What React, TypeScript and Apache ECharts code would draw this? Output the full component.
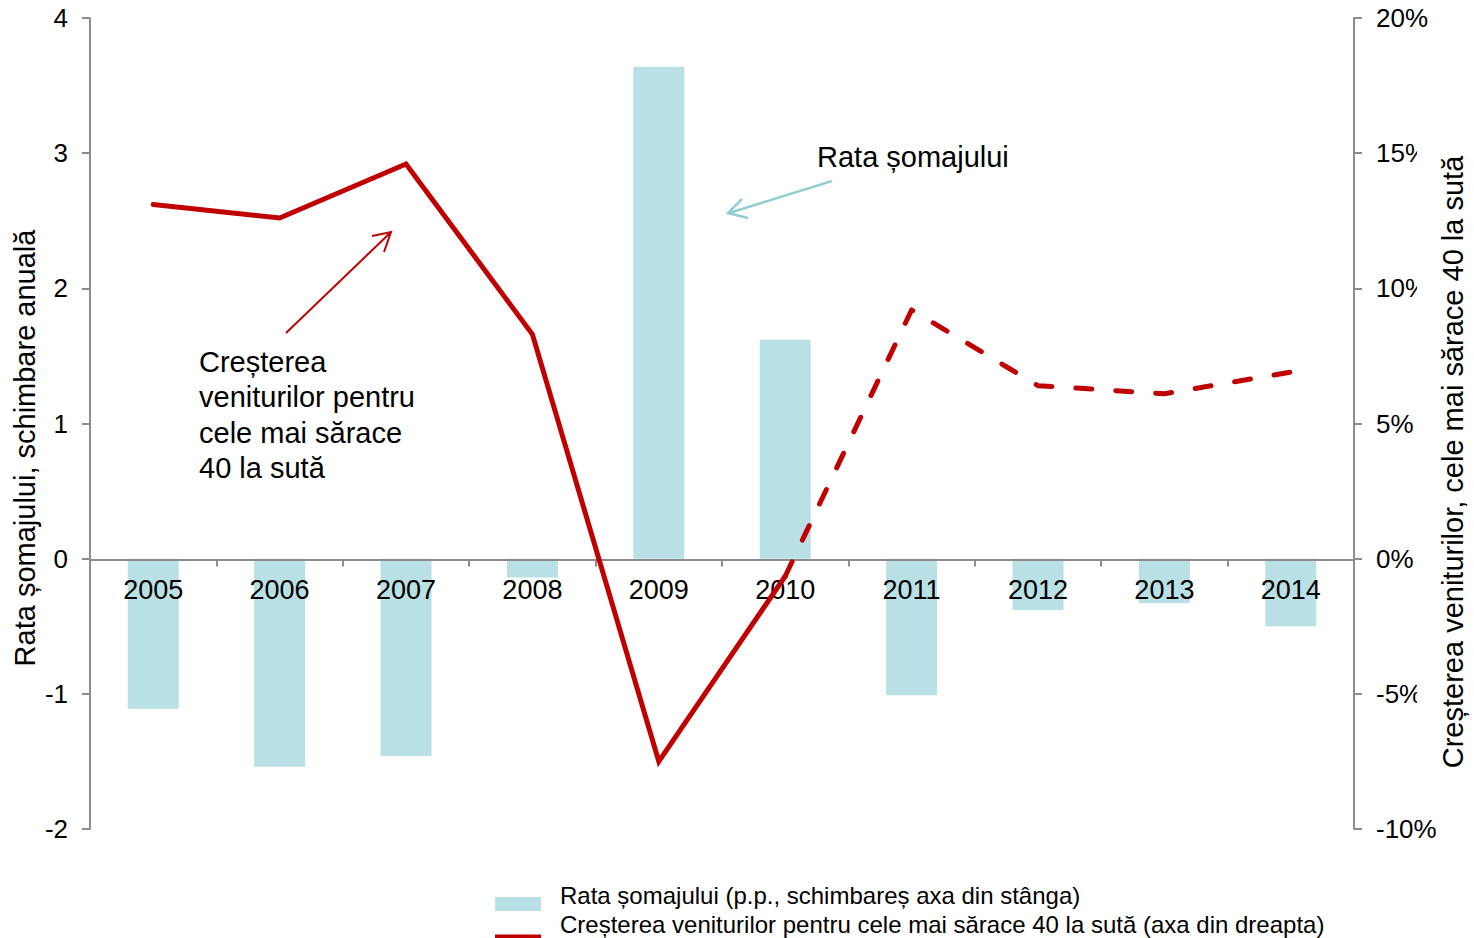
import React, { useEffect, useRef } from "react";
import * as echarts from "echarts";

const years = ["2005", "2006", "2007", "2008", "2009", "2010", "2011", "2012", "2013", "2014"];
const unemploymentChange = [-1.11, -1.54, -1.46, -0.14, 3.64, 1.62, -1.01, -0.38, -0.33, -0.5];
const incomeGrowthActual = [13.1, 12.6, 14.6, 8.3, -7.5, -0.65, null, null, null, null];
const incomeGrowthProjected = [null, null, null, null, null, -0.65, 9.2, 6.4, 6.1, 6.9];
const leftTicks = { min: -2, max: 4, interval: 1 };
const rightTicks = { min: -10, max: 20, interval: 5 };

const barName = "Rata șomajului (p.p., schimbareș axa din stânga)";
const lineName = "Creșterea veniturilor pentru cele mai sărace 40 la sută (axa din dreapta)";
const leftAxisName = "Rata șomajului, schimbare anuală";
const rightAxisName = "Creșterea veniturilor, cele mai sărace 40 la sută";
const annotBar = "Rata șomajului";
const annotLine = ["Creșterea", "veniturilor pentru", "cele mai sărace", "40 la sută"];

const FONT = "'Liberation Sans', Arial, sans-serif";
const RED = "#C00000";
const BAR = "#B9E0E4";
const ARROW_BLUE = "#92CDD2";
const AXIS = "#8C8C8C";

export default function App() {
  const ref = useRef<HTMLDivElement>(null);
  useEffect(() => {
    if (!ref.current) return;
    const chart = echarts.init(ref.current, null, { renderer: "svg" });
    chart.setOption({
      animation: false,
      backgroundColor: "#ffffff",
      textStyle: { fontFamily: FONT },
      grid: { left: 90, right: 120, top: 18, bottom: 109 },
      legend: [
        {
          orient: "vertical",
          left: 495,
          top: 883,
          padding: 0,
          itemWidth: 46,
          itemHeight: 14,
          data: [{ name: barName, icon: "rect", itemStyle: { opacity: 0 } }],
          textStyle: { fontSize: 24, color: "#000", fontFamily: FONT, padding: [0, 0, 0, 14] },
        },
        {
          orient: "vertical",
          left: 495,
          top: 912,
          padding: 0,
          itemWidth: 46,
          itemHeight: 4,
          data: [{ name: lineName, icon: "rect", itemStyle: { opacity: 0 } }],
          textStyle: { fontSize: 24, color: "#000", fontFamily: FONT, padding: [0, 0, 0, 14] },
        },
      ],
      xAxis: {
        type: "category",
        data: years,
        offset: -269.5,
        z: 4,
        axisLine: { onZero: false, lineStyle: { color: AXIS, width: 2 } },
        axisTick: { show: true, length: 7, lineStyle: { color: AXIS, width: 2 } },
        axisLabel: { fontSize: 27, color: "#000", margin: 17, fontFamily: FONT },
        splitLine: { show: false },
      },
      yAxis: [
        {
          type: "value",
          min: leftTicks.min,
          max: leftTicks.max,
          interval: leftTicks.interval,
          axisLine: { show: true, lineStyle: { color: AXIS, width: 2 } },
          axisTick: { show: true, length: 8, lineStyle: { color: AXIS, width: 2 } },
          axisLabel: { fontSize: 26, color: "#000", margin: 22, fontFamily: FONT },
          splitLine: { show: false },
        },
        {
          type: "value",
          min: rightTicks.min,
          max: rightTicks.max,
          interval: rightTicks.interval,
          position: "right",
          axisLine: { show: true, lineStyle: { color: AXIS, width: 2 } },
          axisTick: { show: true, length: 8, lineStyle: { color: AXIS, width: 2 } },
          axisLabel: { fontSize: 26, color: "#000", margin: 22, formatter: "{value}%", fontFamily: FONT },
          splitLine: { show: false },
        },
      ],
      series: [
        {
          name: barName,
          type: "bar",
          yAxisIndex: 0,
          data: unemploymentChange,
          barWidth: 51,
          itemStyle: { color: BAR },
          z: 2,
        },
        {
          name: lineName,
          type: "line",
          yAxisIndex: 1,
          data: incomeGrowthActual,
          symbol: "none",
          showSymbol: false,
          lineStyle: { color: RED, width: 5, cap: "round", join: "miter" },
          itemStyle: { color: RED },
          z: 6,
        },
        {
          name: "Proiecție",
          type: "line",
          yAxisIndex: 1,
          data: incomeGrowthProjected,
          symbol: "none",
          showSymbol: false,
          lineStyle: { color: RED, width: 5, type: [16, 24], cap: "round", join: "round" },
          itemStyle: { color: RED },
          z: 6,
        },
      ],
      graphic: [
        {
          type: "rect",
          shape: { x: 495, y: 897, width: 46, height: 14 },
          style: { fill: BAR },
          z: 10,
        },
        {
          type: "line",
          shape: { x1: 495, y1: 936.5, x2: 541, y2: 936.5 },
          style: { stroke: RED, lineWidth: 4 },
          z: 10,
        },
        {
          type: "text",
          x: 817,
          y: 157,
          style: { text: annotBar, fill: "#000", font: `29px ${FONT}`, textVerticalAlign: "middle" },
          z: 10,
        },
        {
          type: "line",
          shape: { x1: 832, y1: 181, x2: 729, y2: 213 },
          style: { stroke: ARROW_BLUE, lineWidth: 2.5 },
          z: 10,
        },
        {
          type: "polyline",
          shape: { points: [[742, 199], [728, 213], [748, 218]] },
          style: { stroke: ARROW_BLUE, lineWidth: 2.5, fill: null },
          z: 10,
        },
        ...annotLine.map((t, i) => ({
          type: "text",
          x: 199,
          y: 362 + i * 35.3,
          style: { text: t, fill: "#000", font: `29px ${FONT}`, textVerticalAlign: "middle" },
          z: 10,
        })),
        {
          type: "line",
          shape: { x1: 286, y1: 333, x2: 390, y2: 233 },
          style: { stroke: RED, lineWidth: 2 },
          z: 10,
        },
        {
          type: "polyline",
          shape: { points: [[372, 236], [391, 232], [384, 252]] },
          style: { stroke: RED, lineWidth: 2, fill: null },
          z: 10,
        },
        {
          type: "text",
          x: 25,
          y: 448,
          rotation: Math.PI / 2,
          style: { text: leftAxisName, fill: "#000", font: `29px ${FONT}`, textAlign: "center", textVerticalAlign: "middle" },
          z: 10,
        },
        {
          type: "rect",
          shape: { x: 1417, y: 135, width: 57, height: 650 },
          style: { fill: "#ffffff" },
          z: 20,
        },
        {
          type: "text",
          x: 1453,
          y: 462,
          rotation: Math.PI / 2,
          style: { text: rightAxisName, fill: "#000", font: `29px ${FONT}`, textAlign: "center", textVerticalAlign: "middle" },
          z: 21,
        },
      ],
    });
    return () => chart.dispose();
  }, []);
  return (
    <div
      ref={ref}
      style={{ position: "absolute", left: 0, top: 0, width: 1474, height: 938, background: "#fff" }}
    />
  );
}
